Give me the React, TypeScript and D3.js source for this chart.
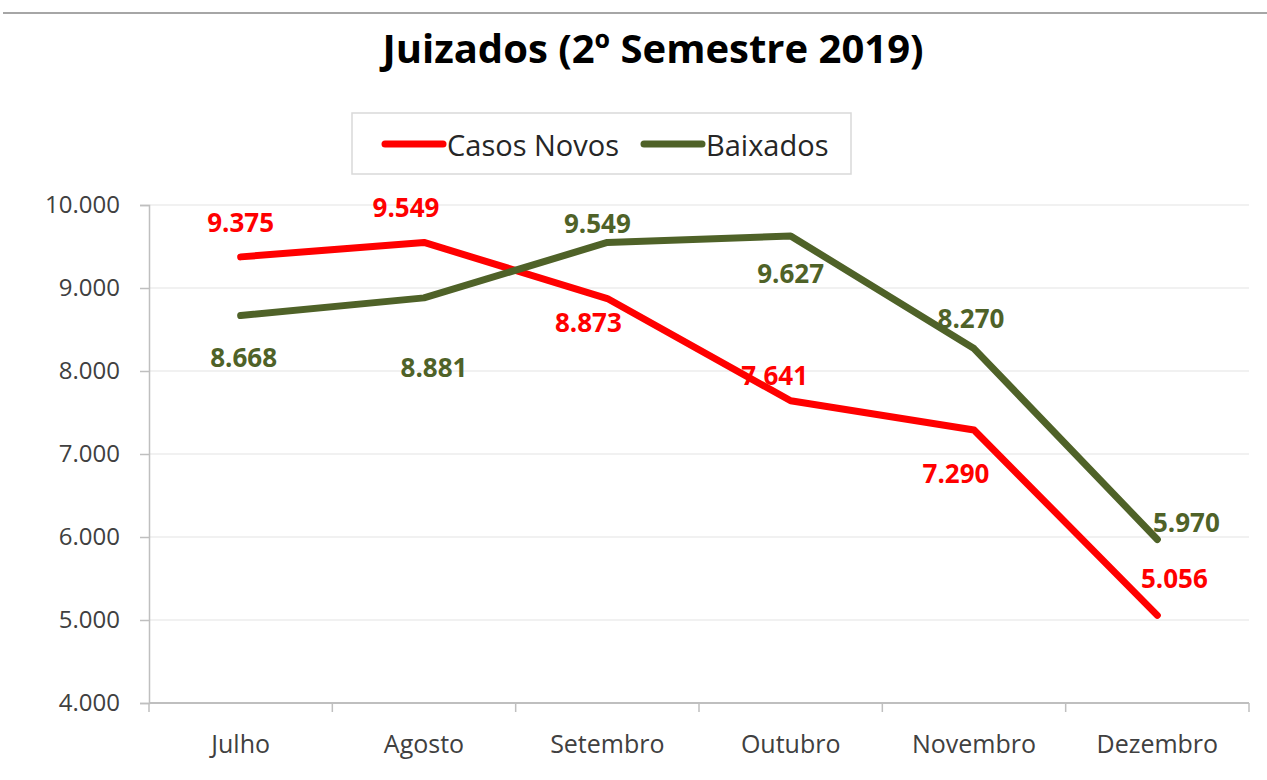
import React, { useRef, useEffect } from "react";
import * as d3 from "d3";

// dados
const meses = ["Julho", "Agosto", "Setembro", "Outubro", "Novembro", "Dezembro"];
const casosNovos = [9375, 9549, 8873, 7641, 7290, 5056];
const baixados = [8668, 8881, 9549, 9627, 8270, 5970];
const yTicks = [4000, 5000, 6000, 7000, 8000, 9000, 10000];

// deslocamento dos rótulos (como no Excel, ajustados à mão)
const offCasos: [number, number][] = [[0, -35], [-18, -35], [-19, 23], [-16, -26], [-18, 43], [17, -37]];
const offBaixados: [number, number][] = [[3, 41], [10, 69], [-10, -19], [0, 37], [-3, -31], [29, -17]];

const W = 1267;
const H = 780;
const FONT = "'Open Sans', sans-serif";
const fmt = (v: number) => d3.format(",")(v).replace(/,/g, ".");

export default function App() {
  const ref = useRef<SVGSVGElement>(null);

  useEffect(() => {
    document.body.style.margin = "0";
    const svg = d3.select(ref.current);
    svg.selectAll("*").remove();

    const x = d3.scaleBand<string>().domain(meses).range([149, 1249]);
    const y = d3.scaleLinear().domain([4000, 10000]).range([703, 205]);
    const cx = (m: string) => (x(m) as number) + x.bandwidth() / 2;

    // linha cinza no topo
    svg.append("line")
      .attr("x1", 3).attr("x2", W).attr("y1", 13).attr("y2", 13)
      .attr("stroke", "#a6a6a6").attr("stroke-width", 2);

    // título
    svg.append("text")
      .attr("x", 653).attr("y", 47)
      .attr("text-anchor", "middle").attr("dominant-baseline", "central")
      .attr("font-family", FONT).attr("font-weight", 700).attr("font-size", 40)
      .attr("fill", "#000")
      .text("Juizados (2º Semestre 2019)");

    // grade
    svg.append("g").selectAll("line")
      .data(yTicks.filter((t) => t > 4000))
      .join("line")
      .attr("x1", 149).attr("x2", 1249)
      .attr("y1", (d) => y(d)).attr("y2", (d) => y(d))
      .attr("stroke", "#ececec").attr("stroke-width", 1.5);

    // eixo Y
    const yAxis = svg.append("g")
      .attr("transform", "translate(149,0)")
      .call(d3.axisLeft(y).tickValues(yTicks).tickSize(9).tickPadding(20).tickFormat((d) => fmt(d as number)));
    yAxis.select(".domain").attr("stroke", "#bfbfbf").attr("stroke-width", 1.5);
    yAxis.selectAll(".tick line").attr("stroke", "#bfbfbf").attr("stroke-width", 1.5);
    yAxis.selectAll(".tick text")
      .attr("font-family", FONT).attr("font-size", 24).attr("fill", "#404040");

    // eixo X
    const xAxis = svg.append("g").attr("transform", "translate(0,703)");
    xAxis.append("line")
      .attr("x1", 149).attr("x2", 1249)
      .attr("stroke", "#bfbfbf").attr("stroke-width", 2);
    const bounds = meses.map((m) => x(m) as number).concat([x.range()[1]]);
    xAxis.selectAll("line.tk")
      .data(bounds)
      .join("line")
      .attr("class", "tk")
      .attr("x1", (d) => d).attr("x2", (d) => d)
      .attr("y1", 0).attr("y2", 9)
      .attr("stroke", "#bfbfbf").attr("stroke-width", 1.5);
    xAxis.selectAll("text")
      .data(meses)
      .join("text")
      .attr("x", (d) => cx(d)).attr("y", 40)
      .attr("text-anchor", "middle").attr("dominant-baseline", "central")
      .attr("font-family", FONT).attr("font-size", 25).attr("fill", "#404040")
      .text((d) => d);

    const series = [
      { nome: "Casos Novos", valores: casosNovos, cor: "#ff0000", off: offCasos },
      { nome: "Baixados", valores: baixados, cor: "#4f6228", off: offBaixados },
    ];

    const line = d3.line<number>()
      .x((_, i) => cx(meses[i]))
      .y((d) => y(d));

    series.forEach((s) => {
      svg.append("path")
        .datum(s.valores)
        .attr("d", line)
        .attr("fill", "none")
        .attr("stroke", s.cor)
        .attr("stroke-width", 7)
        .attr("stroke-linejoin", "round")
        .attr("stroke-linecap", "round");
    });

    series.forEach((s) => {
      svg.append("g").selectAll("text")
        .data(s.valores)
        .join("text")
        .attr("x", (d, i) => cx(meses[i]) + s.off[i][0])
        .attr("y", (d, i) => y(d) + s.off[i][1])
        .attr("text-anchor", "middle").attr("dominant-baseline", "central")
        .attr("font-family", FONT).attr("font-weight", 700).attr("font-size", 26)
        .attr("fill", s.cor)
        .text((d) => fmt(d));
    });

    // legenda
    const leg = svg.append("g");
    leg.append("rect")
      .attr("x", 352).attr("y", 113).attr("width", 499).attr("height", 61)
      .attr("fill", "#fff").attr("stroke", "#d9d9d9").attr("stroke-width", 1.5);
    const legX = [385, 644];
    series.forEach((s, i) => {
      leg.append("line")
        .attr("x1", legX[i]).attr("x2", legX[i] + 58)
        .attr("y1", 144).attr("y2", 144)
        .attr("stroke", s.cor).attr("stroke-width", 7).attr("stroke-linecap", "round");
      leg.append("text")
        .attr("x", legX[i] + 62).attr("y", 144)
        .attr("dominant-baseline", "central")
        .attr("font-family", FONT).attr("font-size", 29).attr("fill", "#262626")
        .text(s.nome);
    });
  }, []);

  return <svg ref={ref} width={W} height={H} style={{ display: "block", background: "#fff" }} />;
}
